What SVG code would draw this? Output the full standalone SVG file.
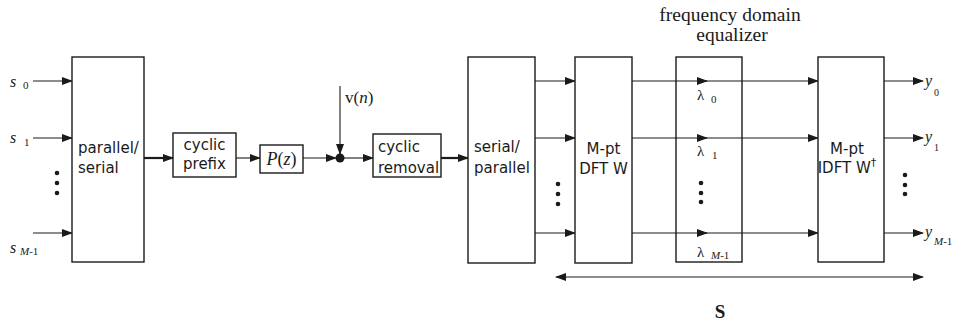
<svg xmlns="http://www.w3.org/2000/svg" width="959" height="328" viewBox="0 0 959 328">
<defs>
<marker id="ah" markerWidth="11" markerHeight="8" refX="10" refY="4" orient="auto-start-reverse" markerUnits="userSpaceOnUse">
<path d="M0,0 L11,4 L0,8 Z" fill="#1a1a1a"/>
</marker>
<style>
.box{fill:#fff;stroke:#1a1a1a;stroke-width:1.4}
.open{fill:none}
.ln{fill:none;stroke:#1a1a1a;stroke-width:1.1}
.thick{stroke-width:2.2}
.lbl{font-family:"DejaVu Sans",Verdana,sans-serif;font-size:15px;fill:#1a1a1a}
.ser{font-family:"Liberation Serif","Times New Roman",serif;fill:#1a1a1a}
.it{font-style:italic}
.dot{fill:#1a1a1a}
</style>
</defs>
<rect width="959" height="328" fill="#fff"/>

<g id="connectors">
<line class="ln" x1="33" y1="81" x2="72" y2="81" marker-end="url(#ah)"/>
<line class="ln" x1="33" y1="138" x2="72" y2="138" marker-end="url(#ah)"/>
<line class="ln" x1="33" y1="233" x2="72" y2="233" marker-end="url(#ah)"/>
<line class="ln thick" x1="144" y1="158" x2="173" y2="158" marker-end="url(#ah)"/>
<line class="ln" x1="236" y1="158" x2="260" y2="158" marker-end="url(#ah)"/>
<line class="ln" x1="303" y1="158" x2="336" y2="158" marker-end="url(#ah)"/>
<line class="ln" x1="340" y1="86" x2="340" y2="154" marker-end="url(#ah)"/>
<line class="ln" x1="344" y1="158" x2="373" y2="158" marker-end="url(#ah)"/>
<line class="ln thick" x1="441" y1="158" x2="468" y2="158" marker-end="url(#ah)"/>
<line class="ln" x1="535" y1="81" x2="575" y2="81" marker-end="url(#ah)"/>
<line class="ln" x1="535" y1="138" x2="575" y2="138" marker-end="url(#ah)"/>
<line class="ln" x1="535" y1="233" x2="575" y2="233" marker-end="url(#ah)"/>
<line class="ln" x1="632" y1="81" x2="707" y2="81" marker-end="url(#ah)"/>
<line class="ln" x1="706" y1="81" x2="818" y2="81" marker-end="url(#ah)"/>
<line class="ln" x1="632" y1="138" x2="707" y2="138" marker-end="url(#ah)"/>
<line class="ln" x1="706" y1="138" x2="818" y2="138" marker-end="url(#ah)"/>
<line class="ln" x1="632" y1="233" x2="707" y2="233" marker-end="url(#ah)"/>
<line class="ln" x1="706" y1="233" x2="818" y2="233" marker-end="url(#ah)"/>
<line class="ln" x1="884" y1="81" x2="923" y2="81" marker-end="url(#ah)"/>
<line class="ln" x1="884" y1="138" x2="923" y2="138" marker-end="url(#ah)"/>
<line class="ln" x1="884" y1="233" x2="923" y2="233" marker-end="url(#ah)"/>
<line class="ln" x1="556" y1="277" x2="923" y2="277" marker-start="url(#ah)" marker-end="url(#ah)"/>
</g>

<g id="inputs">
<text class="ser it" x="10" y="87" font-size="16">s</text><text class="ser" x="23" y="89" font-size="11">0</text>
<text class="ser it" x="10" y="143" font-size="16">s</text><text class="ser" x="24" y="146" font-size="11">1</text>
<text class="ser it" x="10" y="253" font-size="16">s</text><text class="ser" x="20" y="255" font-size="11"><tspan font-style="italic">M</tspan>-1</text>
<circle class="dot" cx="57" cy="173" r="2.3"/><circle class="dot" cx="57" cy="183" r="2.3"/><circle class="dot" cx="57" cy="193" r="2.3"/>
</g>

<g id="ps">
<rect class="box" x="72" y="57" width="72" height="205"/>
<text class="lbl" x="78" y="153">parallel/</text>
<text class="lbl" x="78" y="173">serial</text>
</g>

<g id="cp">
<rect class="box" x="173" y="133" width="63" height="44"/>
<text class="lbl" x="204.5" y="150" text-anchor="middle">cyclic</text>
<text class="lbl" x="204.5" y="169" text-anchor="middle">prefix</text>
</g>

<g id="pz">
<rect class="box" x="260" y="145" width="43" height="28"/>
<text class="ser" x="281.5" y="165" font-size="18" text-anchor="middle"><tspan font-style="italic">P</tspan>(<tspan font-style="italic">z</tspan>)</text>
</g>

<g id="sum">
<circle class="dot" cx="340" cy="158" r="4.5"/>
<text class="ser" x="345" y="103" font-size="17">v(<tspan font-style="italic">n</tspan>)</text>
</g>

<g id="cr">
<rect class="box" x="373" y="134" width="68" height="43"/>
<text class="lbl" x="378" y="152">cyclic</text>
<text class="lbl" x="378" y="173">removal</text>
</g>

<g id="sp">
<rect class="box" x="468" y="57" width="67" height="206"/>
<text class="lbl" x="474" y="152">serial/</text>
<text class="lbl" x="474" y="173">parallel</text>
<circle class="dot" cx="558" cy="184" r="2.3"/><circle class="dot" cx="558" cy="194" r="2.3"/><circle class="dot" cx="558" cy="204" r="2.3"/>
</g>

<g id="dft">
<rect class="box" x="575" y="57" width="57" height="206"/>
<text class="lbl" x="603.5" y="154" text-anchor="middle">M-pt</text>
<text class="lbl" x="603.5" y="174" text-anchor="middle">DFT W</text>
</g>

<g id="fde">
<rect class="box open" x="676" y="57" width="66" height="205"/>
<text class="ser" x="730" y="21" font-size="19.5" text-anchor="middle">frequency domain</text>
<text class="ser" x="732" y="41" font-size="19.5" text-anchor="middle">equalizer</text>
<text class="ser" x="697" y="100" font-size="15">λ</text><text class="ser" x="711" y="103" font-size="11">0</text>
<text class="ser" x="697" y="156" font-size="15">λ</text><text class="ser" x="712" y="159" font-size="11">1</text>
<text class="ser" x="697" y="257" font-size="15">λ</text><text class="ser it" x="711" y="259" font-size="11">M<tspan font-style="normal">-1</tspan></text>
<circle class="dot" cx="701" cy="183" r="2.3"/><circle class="dot" cx="701" cy="193" r="2.3"/><circle class="dot" cx="701" cy="202" r="2.3"/>
</g>

<g id="idft">
<rect class="box" x="818" y="57" width="66" height="205"/>
<text class="lbl" x="847" y="154" text-anchor="middle" font-size="14">M-pt</text>
<text class="lbl" x="847" y="173" text-anchor="middle" font-size="14">IDFT W<tspan dy="-7" font-size="11">†</tspan></text>
</g>

<g id="outputs">
<text class="ser it" x="925" y="86" font-size="16">y</text><text class="ser" x="934" y="96" font-size="10">0</text>
<text class="ser it" x="925" y="142" font-size="16">y</text><text class="ser" x="934" y="151" font-size="10">1</text>
<text class="ser it" x="925" y="237" font-size="16">y</text><text class="ser it" x="934" y="245" font-size="11">M<tspan font-style="normal">-1</tspan></text>
<circle class="dot" cx="905" cy="175" r="2.3"/><circle class="dot" cx="905" cy="185" r="2.3"/><circle class="dot" cx="905" cy="194" r="2.3"/>
</g>

<g id="slabel">
<text class="ser" x="720" y="318" font-size="19" font-weight="bold" text-anchor="middle">S</text>
</g>
</svg>
